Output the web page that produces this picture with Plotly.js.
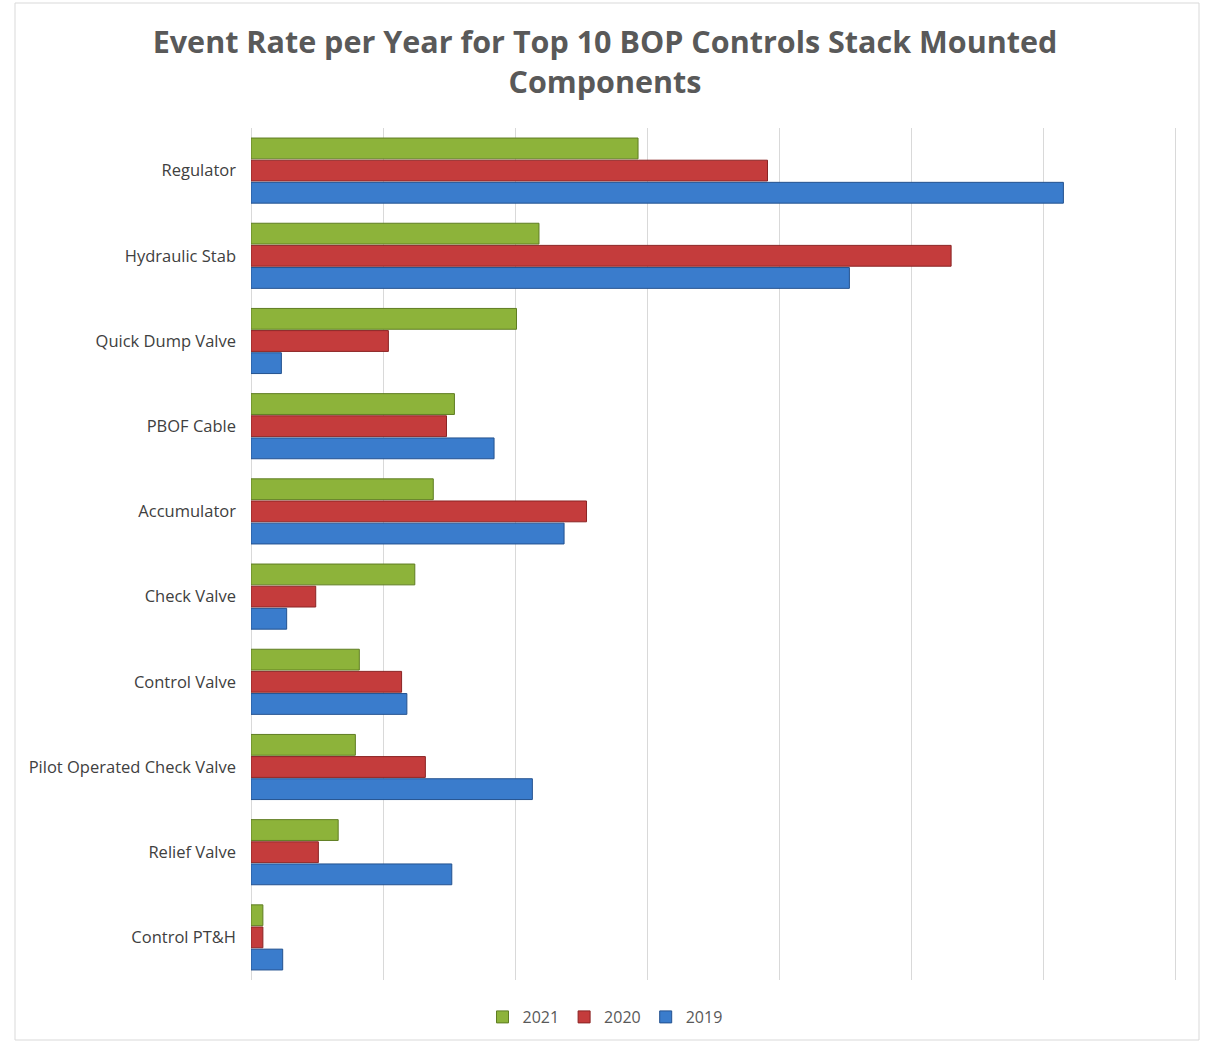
<!DOCTYPE html>
<html>
<head>
<meta charset="utf-8">
<script src="https://cdn.plot.ly/plotly-3.0.1.min.js"></script>
<style>html,body{margin:0;padding:0;background:#fff;}#chart{width:1210px;height:1043px;}</style>
</head>
<body>
<div id="chart"></div>
<script>
const categories = ["Regulator", "Hydraulic Stab", "Quick Dump Valve", "PBOF Cable", "Accumulator",
  "Check Valve", "Control Valve", "Pilot Operated Check Valve", "Relief Valve", "Control PT&H"];
const series2021 = [2.93, 2.18, 2.01, 1.54, 1.38, 1.24, 0.82, 0.79, 0.66, 0.09];
const series2020 = [3.91, 5.30, 1.04, 1.48, 2.54, 0.49, 1.14, 1.32, 0.51, 0.09];
const series2019 = [6.15, 4.53, 0.23, 1.84, 2.37, 0.27, 1.18, 2.13, 1.52, 0.24];
const seriesNames = ["2021", "2020", "2019"];

const colors = ["#8db33a", "#c43c3c", "#3a7ccc"];
const lineColors = ["#5f7d22", "#8a2424", "#24528f"];
const allSeries = [series2021, series2020, series2019];

const traces = allSeries.map((vals, i) => ({
  type: "bar",
  orientation: "h",
  name: seriesNames[i],
  y: categories,
  x: vals,
  marker: { color: colors[i], line: { color: lineColors[i], width: 1 } },
  hoverinfo: "x+y+name"
}));

const layout = {
  width: 1210,
  height: 1043,
  paper_bgcolor: "#ffffff",
  plot_bgcolor: "#ffffff",
  margin: { l: 251, r: 33, t: 128, b: 63 },
  barmode: "group",
  bargap: 0.22,
  bargroupgap: 0.06,
  title: {
    text: "Event Rate per Year for Top 10 BOP Controls Stack Mounted<br>Components",
    font: { family: "'Open Sans', sans-serif", size: 30.5, color: "#595959", weight: "bold" },
    x: 0.5, xanchor: "center",
    yref: "container", y: 1 - 53 / 1043, yanchor: "middle"
  },
  xaxis: {
    range: [0, 7.01],
    dtick: 1,
    tick0: 0,
    showticklabels: false,
    ticks: "",
    showgrid: true,
    gridcolor: "#d9d9d9",
    gridwidth: 1,
    zeroline: true,
    zerolinecolor: "#d9d9d9",
    zerolinewidth: 1,
    showline: false,
    fixedrange: true
  },
  yaxis: {
    type: "category",
    autorange: "reversed",
    ticks: "",
    ticklen: 0,
    showgrid: false,
    zeroline: false,
    showline: false,
    tickfont: { family: "'Open Sans', sans-serif", size: 16.5, color: "#404040" },
    ticklabelstandoff: 14
  },
  showlegend: true,
  legend: {
    orientation: "h",
    xref: "container", x: 0.5, xanchor: "center",
    yref: "container", y: 1 - 1017 / 1043, yanchor: "middle",
    font: { family: "'Open Sans', sans-serif", size: 16, color: "#595959" },
    itemwidth: 30,
    traceorder: "normal"
  },
  shapes: [{
    type: "rect", xref: "paper", yref: "paper",
    x0: (15 - 251) / 926, x1: (1199 - 251) / 926,
    y0: -(1040 - 980) / 852, y1: 1 + (128 - 3) / 852,
    line: { color: "#d9d9d9", width: 1 },
    fillcolor: "rgba(0,0,0,0)",
    layer: "below"
  }]
};

Plotly.newPlot("chart", traces, layout, { displayModeBar: false, staticPlot: false });
</script>
</body>
</html>
